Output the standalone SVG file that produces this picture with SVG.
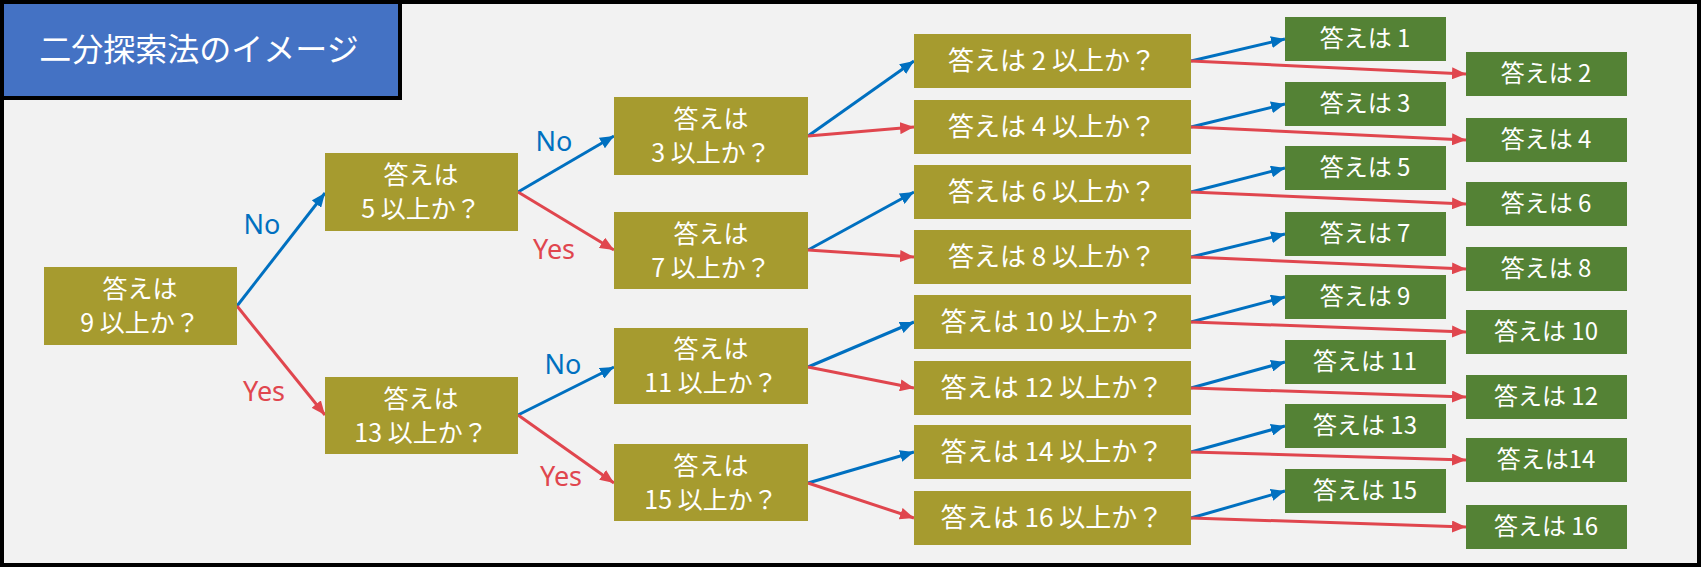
<svg xmlns="http://www.w3.org/2000/svg" width="1701" height="567" viewBox="0 0 1701 567">
<style>
.q{fill:#A69B2F}.lf{fill:#548235}
text{font-family:"Noto Sans CJK JP","Noto Sans",sans-serif;fill:#fff;text-anchor:middle}
.t26{font-size:26px}.t25{font-size:25px}.t24{font-size:24px}
.lb{font-size:27px;font-family:"Noto Sans","Noto Sans CJK JP",sans-serif}
.b{stroke:#0070C0;stroke-width:3;fill:none;marker-end:url(#ab)}
.r{stroke:#E0464E;stroke-width:3;fill:none;marker-end:url(#ar)}
</style>
<defs>
<marker id="ab" markerUnits="userSpaceOnUse" markerWidth="15" markerHeight="12" refX="14" refY="6" orient="auto"><path d="M0,0L14,6L0,12z" fill="#0070C0"/></marker>
<marker id="ar" markerUnits="userSpaceOnUse" markerWidth="15" markerHeight="12" refX="14" refY="6" orient="auto"><path d="M0,0L14,6L0,12z" fill="#E0464E"/></marker>
</defs>
<rect x="2" y="2" width="1697" height="563" fill="#F2F2F2" stroke="#000" stroke-width="4"/>
<g id="title"><rect x="2" y="2" width="398" height="96" fill="#4472C4" stroke="#000" stroke-width="4"/><text x="199" y="61" style="font-size:32px">二分探索法のイメージ</text></g>
<g id="connectors">
<line class="b" x1="237" y1="306" x2="325" y2="193"/><line class="r" x1="237" y1="306" x2="325" y2="415"/>
<line class="b" x1="518" y1="192" x2="614" y2="136"/><line class="r" x1="518" y1="192" x2="614" y2="250"/>
<line class="b" x1="518" y1="415" x2="614" y2="367"/><line class="r" x1="518" y1="415" x2="614" y2="483"/>
<line class="b" x1="808" y1="136" x2="914" y2="61"/><line class="r" x1="808" y1="136" x2="914" y2="127"/>
<line class="b" x1="808" y1="250" x2="914" y2="192"/><line class="r" x1="808" y1="250" x2="914" y2="257"/>
<line class="b" x1="808" y1="367" x2="914" y2="322"/><line class="r" x1="808" y1="367" x2="914" y2="388"/>
<line class="b" x1="808" y1="483" x2="914" y2="452"/><line class="r" x1="808" y1="483" x2="914" y2="518"/>
<line class="b" x1="1191" y1="61" x2="1285" y2="39"/><line class="r" x1="1191" y1="61" x2="1466" y2="74"/>
<line class="b" x1="1191" y1="127" x2="1285" y2="104"/><line class="r" x1="1191" y1="127" x2="1466" y2="140"/>
<line class="b" x1="1191" y1="192" x2="1285" y2="168"/><line class="r" x1="1191" y1="192" x2="1466" y2="204"/>
<line class="b" x1="1191" y1="257" x2="1285" y2="234"/><line class="r" x1="1191" y1="257" x2="1466" y2="269"/>
<line class="b" x1="1191" y1="322" x2="1285" y2="297"/><line class="r" x1="1191" y1="322" x2="1466" y2="332"/>
<line class="b" x1="1191" y1="388" x2="1285" y2="362"/><line class="r" x1="1191" y1="388" x2="1466" y2="397"/>
<line class="b" x1="1191" y1="452" x2="1285" y2="426"/><line class="r" x1="1191" y1="452" x2="1466" y2="460"/>
<line class="b" x1="1191" y1="518" x2="1285" y2="491"/><line class="r" x1="1191" y1="518" x2="1466" y2="527"/>
<text class="lb" x="262" y="234" style="fill:#0070C0">No</text>
<text class="lb" x="264" y="401" style="fill:#E0464E">Yes</text>
<text class="lb" x="554" y="151" style="fill:#0070C0">No</text>
<text class="lb" x="554" y="259" style="fill:#E0464E">Yes</text>
<text class="lb" x="563" y="374" style="fill:#0070C0">No</text>
<text class="lb" x="561" y="486" style="fill:#E0464E">Yes</text>
</g>
<g id="n9"><rect class="q" x="44" y="267" width="193" height="78"/><text class="t25" x="140" y="298">答えは</text><text class="t25" x="140" y="332">9 以上か？</text></g>
<g id="n5"><rect class="q" x="325" y="153" width="193" height="78"/><text class="t25" x="421" y="184">答えは</text><text class="t25" x="421" y="218">5 以上か？</text></g>
<g id="n13"><rect class="q" x="325" y="377" width="193" height="77"/><text class="t25" x="421" y="408">答えは</text><text class="t25" x="421" y="442">13 以上か？</text></g>
<g id="n3"><rect class="q" x="614" y="97" width="194" height="78"/><text class="t25" x="711" y="128">答えは</text><text class="t25" x="711" y="162">3 以上か？</text></g>
<g id="n7"><rect class="q" x="614" y="212" width="194" height="77"/><text class="t25" x="711" y="243">答えは</text><text class="t25" x="711" y="277">7 以上か？</text></g>
<g id="n11"><rect class="q" x="614" y="328" width="194" height="76"/><text class="t25" x="711" y="358">答えは</text><text class="t25" x="711" y="392">11 以上か？</text></g>
<g id="n15"><rect class="q" x="614" y="444" width="194" height="77"/><text class="t25" x="711" y="475">答えは</text><text class="t25" x="711" y="509">15 以上か？</text></g>
<g id="n2"><rect class="q" x="914" y="34" width="277" height="54"/><text class="t26" x="1052" y="70">答えは 2 以上か？</text></g>
<g id="n4"><rect class="q" x="914" y="100" width="277" height="54"/><text class="t26" x="1052" y="136">答えは 4 以上か？</text></g>
<g id="n6"><rect class="q" x="914" y="165" width="277" height="54"/><text class="t26" x="1052" y="201">答えは 6 以上か？</text></g>
<g id="n8"><rect class="q" x="914" y="230" width="277" height="54"/><text class="t26" x="1052" y="266">答えは 8 以上か？</text></g>
<g id="n10"><rect class="q" x="914" y="295" width="277" height="54"/><text class="t26" x="1052" y="331">答えは 10 以上か？</text></g>
<g id="n12"><rect class="q" x="914" y="361" width="277" height="54"/><text class="t26" x="1052" y="397">答えは 12 以上か？</text></g>
<g id="n14"><rect class="q" x="914" y="425" width="277" height="54"/><text class="t26" x="1052" y="461">答えは 14 以上か？</text></g>
<g id="n16"><rect class="q" x="914" y="491" width="277" height="54"/><text class="t26" x="1052" y="527">答えは 16 以上か？</text></g>
<g id="a1"><rect class="lf" x="1285" y="17" width="161" height="44"/><text class="t24" x="1365" y="47">答えは 1</text></g>
<g id="a3"><rect class="lf" x="1285" y="82" width="161" height="44"/><text class="t24" x="1365" y="112">答えは 3</text></g>
<g id="a5"><rect class="lf" x="1285" y="146" width="161" height="44"/><text class="t24" x="1365" y="176">答えは 5</text></g>
<g id="a7"><rect class="lf" x="1285" y="212" width="161" height="44"/><text class="t24" x="1365" y="242">答えは 7</text></g>
<g id="a9"><rect class="lf" x="1285" y="275" width="161" height="44"/><text class="t24" x="1365" y="305">答えは 9</text></g>
<g id="a11"><rect class="lf" x="1285" y="340" width="161" height="44"/><text class="t24" x="1365" y="370">答えは 11</text></g>
<g id="a13"><rect class="lf" x="1285" y="404" width="161" height="44"/><text class="t24" x="1365" y="434">答えは 13</text></g>
<g id="a15"><rect class="lf" x="1285" y="469" width="161" height="44"/><text class="t24" x="1365" y="499">答えは 15</text></g>
<g id="a2"><rect class="lf" x="1466" y="52" width="161" height="44"/><text class="t24" x="1546" y="82">答えは 2</text></g>
<g id="a4"><rect class="lf" x="1466" y="118" width="161" height="44"/><text class="t24" x="1546" y="148">答えは 4</text></g>
<g id="a6"><rect class="lf" x="1466" y="182" width="161" height="44"/><text class="t24" x="1546" y="212">答えは 6</text></g>
<g id="a8"><rect class="lf" x="1466" y="247" width="161" height="44"/><text class="t24" x="1546" y="277">答えは 8</text></g>
<g id="a10"><rect class="lf" x="1466" y="310" width="161" height="44"/><text class="t24" x="1546" y="340">答えは 10</text></g>
<g id="a12"><rect class="lf" x="1466" y="375" width="161" height="44"/><text class="t24" x="1546" y="405">答えは 12</text></g>
<g id="a14"><rect class="lf" x="1466" y="438" width="161" height="44"/><text class="t24" x="1546" y="468">答えは14</text></g>
<g id="a16"><rect class="lf" x="1466" y="505" width="161" height="44"/><text class="t24" x="1546" y="535">答えは 16</text></g>
</svg>
